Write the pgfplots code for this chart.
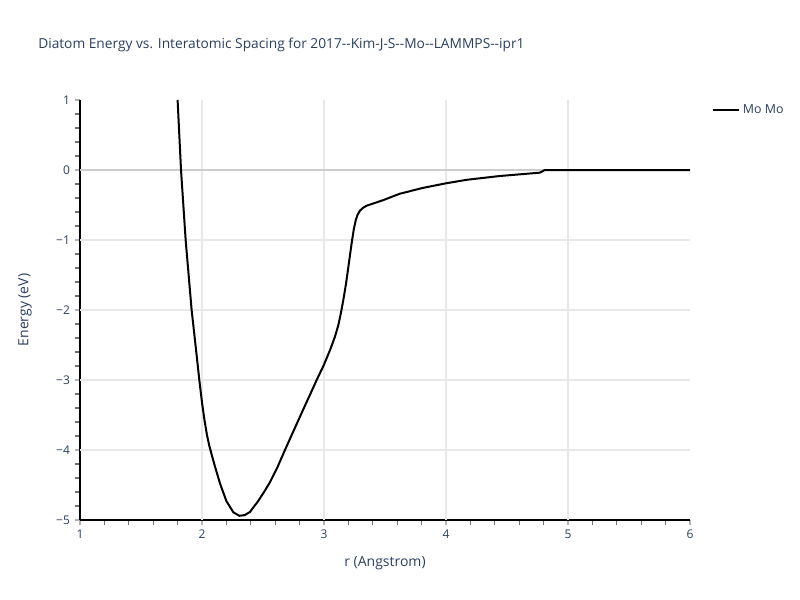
\documentclass[border=0pt]{standalone}
\usepackage{pgfplots}
\pgfplotsset{compat=1.18}
\usepackage{fontspec}
\setmainfont{Open Sans}
\definecolor{slate}{RGB}{42,63,95}
\definecolor{gridc}{RGB}{232,232,232}
\definecolor{zeroc}{RGB}{205,205,205}
\begin{document}
\begin{tikzpicture}
\path[use as bounding box] (0,0) rectangle (600pt,450pt);
\begin{axis}[
  at={(60pt,60pt)}, anchor=south west,
  scale only axis, width=457.5pt, height=315pt,
  xmin=1, xmax=6, ymin=-5, ymax=1,
  axis x line*=bottom, axis y line*=left,
  axis line style={black, line width=0.8pt},
  xtick={1,2,3,4,5,6}, ytick={-5,-4,-3,-2,-1,0,1},
  xticklabels={1,2,3,4,5,6},
  yticklabels={−5,−4,−3,−2,−1,0,1},
  minor x tick num=4, minor y tick num=4,
  tick align=outside,
  major tick length=4pt, minor tick length=3.5pt,
  major tick style={gray!60, line width=0.8pt},
  minor tick style={gray!90!black, line width=0.8pt},
  tick label style={font=\fontsize{9}{11}\selectfont, text=slate},
  clip=false,
  legend style={at={(rel axis cs:1,1)}, anchor=north west, xshift=13pt, yshift=1pt,
    draw=none, fill=none, font=\fontsize{9.3}{11}\selectfont, text=slate,
    legend cell align=left},
  legend image code/.code={\draw[#1, line width=1.5pt] (0pt,0pt) -- (20pt,0pt);},
]
\pgfplotsinvokeforeach{2,3,4,5}{\draw[gridc, line width=0.8pt] (axis cs:#1,-5) -- (axis cs:#1,1);}
\pgfplotsinvokeforeach{-4,-3,-2,-1}{\draw[gridc, line width=0.8pt] (axis cs:1,#1) -- (axis cs:6,#1);}
\draw[zeroc, line width=1.2pt] (axis cs:1,0) -- (axis cs:6,0);
\addplot[black, line width=1.5pt, line join=round] coordinates {
(1.800,1.00) (1.828,0.00) (1.866,-1.00) (1.915,-2.00) (1.950,-2.55)
(1.978,-3.00) (2.000,-3.32) (2.020,-3.57) (2.040,-3.78) (2.060,-3.94)
(2.080,-4.07) (2.107,-4.24) (2.148,-4.48) (2.200,-4.73) (2.257,-4.89)
(2.306,-4.94) (2.350,-4.93) (2.393,-4.885) (2.460,-4.73) (2.516,-4.58)
(2.557,-4.46) (2.620,-4.24) (2.680,-4.00) (2.760,-3.69) (2.830,-3.42)
(2.880,-3.23) (2.940,-3.00) (3.000,-2.78) (3.050,-2.57) (3.090,-2.38)
(3.117,-2.22) (3.139,-2.04) (3.158,-1.86) (3.180,-1.63) (3.200,-1.38)
(3.227,-1.04) (3.245,-0.84) (3.260,-0.72) (3.275,-0.64) (3.295,-0.58)
(3.320,-0.54) (3.350,-0.51) (3.486,-0.43) (3.620,-0.34) (3.800,-0.26)
(4.000,-0.19) (4.170,-0.14) (4.440,-0.086) (4.770,-0.038) (4.810,0.00)
(6.000,0.00)
};
\addlegendentry{Mo Mo}
\end{axis}
\node[anchor=west, inner sep=0pt, text=slate, font=\fontsize{10.3}{12}\selectfont] at (28.5pt,416.25pt)
  {Diatom Energy vs. Interatomic Spacing for 2017{-}{-}Kim-J-S{-}{-}Mo{-}{-}LAMMPS{-}{-}ipr1};
\node[text=slate, font=\fontsize{10.5}{13}\selectfont] at (288.75pt,27.75pt) {r (Angstrom)};
\node[text=slate, font=\fontsize{10.5}{13}\selectfont, rotate=90] at (18.75pt,217.5pt) {Energy (eV)};
\end{tikzpicture}
\end{document}
